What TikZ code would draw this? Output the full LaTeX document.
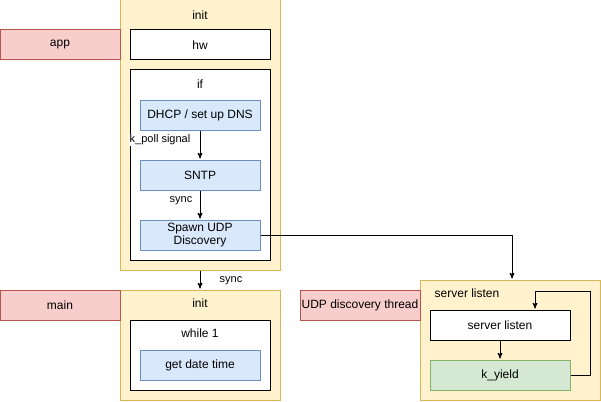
\documentclass[tikz,border=0pt]{standalone}
\usepackage{fontspec}
\setmainfont{Liberation Sans}
\usepackage{tikz}
\usetikzlibrary{arrows}

\definecolor{yelfill}{HTML}{FFF2CC}
\definecolor{yelline}{HTML}{D6B656}
\definecolor{redfill}{HTML}{F8CECC}
\definecolor{redline}{HTML}{B85450}
\definecolor{bluefill}{HTML}{DAE8FC}
\definecolor{blueline}{HTML}{6C8EBF}
\definecolor{grnfill}{HTML}{D5E8D4}
\definecolor{grnline}{HTML}{82B366}

\begin{document}
\begin{tikzpicture}
    [x=1pt,y=-1pt,>=stealth',shorten >=1pt,line width=1pt,
      font=\fontsize{12}{13.5}\selectfont,
      box/.style={rectangle,draw,inner sep=1pt,align=center,minimum width=140pt,minimum height=30pt},
      grp/.style={box,draw=yelline,fill=yelfill},
      thread/.style={box,draw=redline,fill=redfill,minimum width=120pt},
      step box/.style={box,draw=blueline,fill=bluefill,minimum width=120pt},
      title/.style={inner sep=0pt},
      edge label/.style={inner sep=1pt,fill=white,font=\fontsize{11}{12}\selectfont}]
    \useasboundingbox (0,0) rectangle (601,401);

      % app thread
      \node[grp,minimum width=160pt,minimum height=270pt] (init1) at (200,135) {};
      \node[title] (init1t) at (200,15) {init};
      \node[thread] (app) at (60,45) {app};
      \node[box,fill=white] (hw) at (200,45) {hw};
      \node[box,fill=white,minimum height=190pt] (if) at (200,165) {};
      \node[title] (ift) at (200,84) {if};
      \node[step box] (dhcp) at (200,115) {DHCP / set up DNS};
      \node[step box] (sntp) at (200,175) {SNTP};
      \node[step box] (spawn) at (200,235) {Spawn UDP\\Discovery};

      % main thread
      \node[grp,minimum width=160pt,minimum height=110pt] (init2) at (200,345) {};
      \node[title] (init2t) at (200,303) {init};
      \node[thread] (main) at (60,305) {main};
      \node[box,fill=white,minimum height=70pt] (while) at (200,355) {};
      \node[title] (whilet) at (200,333) {while 1};
      \node[step box] (getdate) at (200,365) {get date time};

      % udp discovery thread
      \node[grp,minimum width=180pt,minimum height=120pt] (srv) at (510,340) {};
      \node[title] (srvt) at (467,293) {server listen};
      \node[thread] (udp) at (360,305) {UDP discovery thread};
      \node[box,fill=white] (listen) at (500,325) {server listen};
      \node[box,draw=grnline,fill=grnfill] (yield) at (500,375) {k\_yield};

      \coordinate (loopa) at (590,291);
      \coordinate (loopb) at (535,291);

      \foreach \from/\to in {dhcp/sntp,sntp/spawn,init1/init2,listen/yield}
	\draw[->] (\from) -- (\to);
      \draw[->] (spawn.east) -| ([xshift=2]srv.north);
      \draw[->] (yield.east) -| (loopa) -- (loopb) -- (loopb |- listen.north);

      \node[edge label] (poll) at (160,140) {k\_poll signal};
      \node[edge label] (sync1) at (181,201) {sync};
      \node[edge label] (sync2) at (231,281) {sync};
    \end{tikzpicture}
\end{document}
